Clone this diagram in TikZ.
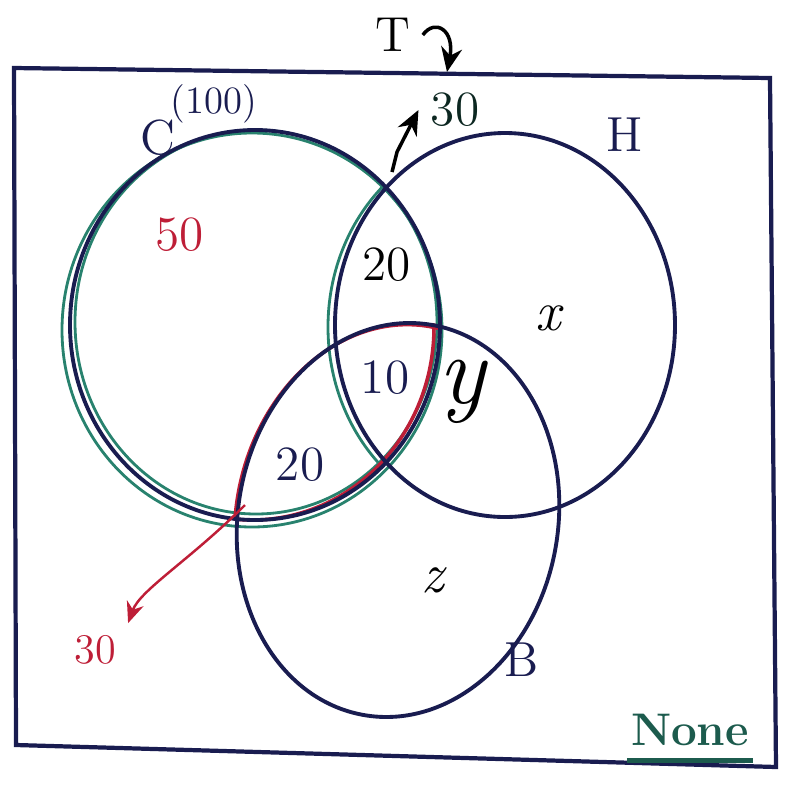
\documentclass[tikz,border=0pt]{standalone}
\usetikzlibrary{arrows.meta}
\begin{document}
\begin{tikzpicture}[x=0.01cm,y=-0.01cm,
  navy/.style={draw=black!70!blue!90,line width=1.1pt},
  boxline/.style={draw=blue!45!black,line width=1.2pt},
  grn/.style={draw=teal!70!green!80!black,line width=0.8pt},
  rd/.style={draw=red!80!black,line width=1pt},
  lbl/.style={font=\fontsize{14}{16}\selectfont},
  arr/.style={-{Stealth[length=7pt,width=6pt]},line width=1pt},
  brot/.style={rotate around={-10:(398,520)}}]
\definecolor{inkc}{RGB}{25,28,80}
\definecolor{redc}{RGB}{190,30,55}
\definecolor{grnc}{RGB}{40,130,110}
\useasboundingbox (0,0) rectangle (786,787);
% box
\draw[boxline,draw=inkc] (14,68) -- (770,78) -- (776,767) -- (16,745) -- cycle;
% green highlights
\draw[grn,draw=grnc] (252,330) ellipse [x radius=190, y radius=197];
\draw[grn,draw=grnc] (256,322) ellipse [x radius=181, y radius=192];
\begin{scope}
  \clip (255,325) ellipse [x radius=185, y radius=195];
  \draw[grn,draw=grnc] (500,327) ellipse [x radius=172, y radius=192];
\end{scope}
% red outline of C and B overlap
\begin{scope}
  \clip (255,325) ellipse [x radius=187, y radius=197];
  \draw[rd,draw=redc,brot] (396,522) ellipse [x radius=160, y radius=198];
\end{scope}
\begin{scope}
  \clip[brot] (398,520) ellipse [x radius=162, y radius=200];
  \draw[rd,draw=redc] (252,327) ellipse [x radius=182, y radius=193];
\end{scope}
% circles
\draw[navy,draw=inkc] (255,325) ellipse [x radius=185, y radius=195];
\draw[navy,draw=inkc] (505,325) ellipse [x radius=170, y radius=192];
\draw[navy,draw=inkc,brot] (398,520) ellipse [x radius=160, y radius=198];
% labels
\node[lbl,text=inkc] (tC) at (158,138) {C};
\node[lbl,text=inkc,font=\fontsize{11}{13}\selectfont] (tCn) at (214,104) {(100)};
\node[lbl,text=inkc] (tH) at (625,135) {H};
\node[lbl,text=inkc] (tB) at (522,660) {B};
\node[lbl,text=redc] (t50) at (180,235) {50};
\node[lbl] (t20a) at (387,265) {20};
\node[lbl,text=inkc] (t10) at (385,378) {10};
\node[lbl,text=inkc] (t20b) at (300,465) {20};
\node[lbl,font=\fontsize{16}{18}\selectfont\itshape] (tx) at (548,318) {x};
\node[lbl,font=\fontsize{28}{30}\selectfont\itshape] (ty) at (462,392) {y};
\node[lbl,font=\itshape\fontsize{16}{18}\selectfont] (tz) at (433,580) {z};
\node[lbl,text=redc,font=\fontsize{12}{14}\selectfont] (t30r) at (95,650) {30};
\node[lbl,text=black!70!grnc] (t30) at (455,110) {30};
\node[lbl] (tT) at (393,35) {T};
\node[lbl,text=grnc!70!black,font=\fontsize{13}{15}\selectfont\bfseries,inner sep=1pt] (tN) at (690,730) {None};
\draw[grnc!70!black,line width=1.2pt] ([yshift=-3pt]tN.south west) -- ([yshift=-3pt]tN.south east);
% arrows
\coordinate (topbox) at (447,72);
\coordinate (ix) at (392,172);
\coordinate (redstart) at (245,505);
\draw[arr] (tT.east) .. controls (435,18) and (455,30) .. (topbox);
\draw[arr] (ix) -- (397,152) -- (t30.west);
\draw[arr,draw=redc,-{Stealth[length=6pt,width=5pt]},line width=0.7pt] (redstart) .. controls (190,560) and (140,590) .. (t30r.north east);
\end{tikzpicture}
\end{document}
